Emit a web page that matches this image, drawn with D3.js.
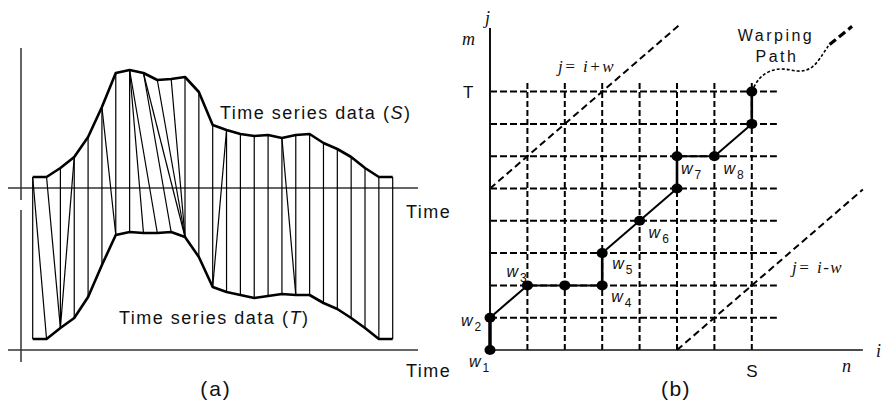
<!DOCTYPE html>
<html>
<head>
<meta charset="utf-8">
<script src="https://cdn.jsdelivr.net/npm/d3@7"></script>
<style>
	body { margin: 0; background: #fff; }
	text { font-family: "Liberation Sans", Arial, sans-serif; fill: #111; }
	.serif { font-family: "Liberation Serif", "Times New Roman", serif; font-style: italic; }
</style>
</head>
<body>
<script>
// (a) two time series, sampled at the same time steps
const seriesS = [173, 173, 182, 193, 213, 243, 277, 280, 277, 270, 271, 273, 258, 225,
	220, 216, 214, 215, 212, 215, 216, 207, 201, 193, 182, 173, 173];
const seriesT = [11, 11, 22, 32, 53, 85, 115, 118, 117, 117, 118, 113, 93, 63,
	58, 55, 52, 54, 56, 55, 55, 47, 41, 32, 22, 11, 11];

// index pairs [i in S, j in T] joined by the alignment lines
const matches = [[0, 0], [0, 1], [1, 2], [2, 2], [3, 2], [3, 3], [4, 4], [5, 5], [5, 6],
	[6, 6], [7, 7], [7, 8], [7, 9], [8, 10], [8, 11], [9, 11], [10, 11], [11, 11],
	[12, 12], [13, 13], [14, 13], [14, 14], [15, 15], [16, 16], [17, 17], [18, 18],
	[18, 19], [19, 19], [20, 20], [21, 21], [22, 22], [23, 23], [24, 24], [25, 25], [26, 26]];

// (b) warping path cells [i, j]
const pathCells = [[0, 0], [0, 1], [1, 2], [2, 2], [3, 2], [3, 3], [4, 4], [5, 5],
	[5, 6], [6, 6], [7, 7], [7, 8]];
const pathNames = ["1", "2", "3", "4", "5", "6", "7", "8"];
const pathNamed = [0, 1, 2, 4, 5, 6, 8, 9]; // which cell carries each w_k
const gridRows = [1, 2, 3, 4, 5, 6, 7, 8];
const gridCols = [1, 2, 3, 4, 5, 6, 7];
const bandW = 5;
const upperBand = [0, 5.05];
const lowerBand = [5, 9.97];
// rough shape of the "Warping Path" squiggle, in cell units
const squiggle = [[7, 8], [7.2, 8.5], [7.75, 8.78], [8.25, 8.58], [8.65, 8.72], [8.92, 9.2], [9.05, 9.42]];
const squiggleEnd = [[9.08, 9.46], [9.68, 10.02]];

const width = 881;
const height = 410;

const svg = d3.select("body")
	.append("svg")
	.attr("width", width)
	.attr("height", height);

/* ---------- panel (a) ---------- */
const xA = d3.scaleLinear().domain([0, 26]).range([32.7, 392.7]);
const yA = d3.scaleLinear().domain([0, 300]).range([350, 50]);

const gA = svg.append("g");

// axes
gA.append("line")
	.attr("x1", 8).attr("x2", 418)
	.attr("y1", yA(162)).attr("y2", yA(162))
	.attr("stroke", "#333").attr("stroke-width", 1.5);
gA.append("line")
	.attr("x1", 8).attr("x2", 418)
	.attr("y1", yA(0)).attr("y2", yA(0))
	.attr("stroke", "#333").attr("stroke-width", 1.5);
gA.append("line")
	.attr("x1", 21).attr("x2", 21)
	.attr("y1", yA(302)).attr("y2", yA(150))
	.attr("stroke", "#333").attr("stroke-width", 1.5);
gA.append("line")
	.attr("x1", 21).attr("x2", 21)
	.attr("y1", yA(140)).attr("y2", yA(-12))
	.attr("stroke", "#333").attr("stroke-width", 1.5);

// alignment lines
gA.selectAll("line.match")
	.data(matches)
	.enter()
	.append("line")
	.attr("class", "match")
	.attr("x1", d => xA(d[0]))
	.attr("y1", d => yA(seriesS[d[0]]))
	.attr("x2", d => xA(d[1]))
	.attr("y2", d => yA(seriesT[d[1]]))
	.attr("stroke", "#000")
	.attr("stroke-width", 1.2);

const lineA = d3.line()
	.x((d, i) => xA(i))
	.y(d => yA(d));

[seriesS, seriesT].forEach(function(s) {
	gA.append("path")
		.attr("d", lineA(s))
		.attr("fill", "none")
		.attr("stroke", "#000")
		.attr("stroke-width", 2.6)
		.attr("stroke-linejoin", "round");
});

const labA = gA.append("g")
	.attr("font-size", "18px")
	.attr("letter-spacing", "1.5px");
const ls = labA.append("text").attr("x", 220).attr("y", 119);
ls.append("tspan").text("Time series data (");
ls.append("tspan").attr("font-style", "italic").text("S");
ls.append("tspan").text(")");
const lt = labA.append("text").attr("x", 119).attr("y", 324);
lt.append("tspan").text("Time series data (");
lt.append("tspan").attr("font-style", "italic").text("T");
lt.append("tspan").text(")");
labA.append("text").attr("x", 406).attr("y", 218).text("Time");
labA.append("text").attr("x", 406).attr("y", 377).text("Time");
labA.append("text").attr("x", 216).attr("y", 396)
	.attr("text-anchor", "middle").attr("font-size", "21px").attr("letter-spacing", "2px").text("(a)");

/* ---------- panel (b) ---------- */
const xB = d3.scaleLinear().domain([0, 10]).range([490, 864]);
const yB = d3.scaleLinear().domain([0, 10]).range([350, 27]);

const gB = svg.append("g");

// dashed grid
gB.selectAll("line.row")
	.data(gridRows)
	.enter()
	.append("line")
	.attr("class", "row")
	.attr("x1", xB(0)).attr("x2", xB(7.67))
	.attr("y1", d => yB(d)).attr("y2", d => yB(d))
	.attr("stroke", "#000").attr("stroke-width", 2)
	.attr("stroke-dasharray", "7,3");
gB.selectAll("line.col")
	.data(gridCols)
	.enter()
	.append("line")
	.attr("class", "col")
	.attr("x1", d => xB(d)).attr("x2", d => xB(d))
	.attr("y1", yB(0)).attr("y2", yB(8.36))
	.attr("stroke", "#000").attr("stroke-width", 2)
	.attr("stroke-dasharray", "6,3");

// band limits j = i + w and j = i - w
gB.append("line")
	.attr("x1", xB(upperBand[0])).attr("y1", yB(upperBand[0] + bandW))
	.attr("x2", xB(upperBand[1])).attr("y2", yB(upperBand[1] + bandW))
	.attr("stroke", "#000").attr("stroke-width", 2)
	.attr("stroke-dasharray", "7,4");
gB.append("line")
	.attr("x1", xB(lowerBand[0])).attr("y1", yB(lowerBand[0] - bandW))
	.attr("x2", xB(lowerBand[1])).attr("y2", yB(lowerBand[1] - bandW))
	.attr("stroke", "#000").attr("stroke-width", 2)
	.attr("stroke-dasharray", "7,4");

// axes
gB.append("line")
	.attr("x1", xB(0)).attr("x2", xB(0))
	.attr("y1", yB(0)).attr("y2", yB(9.97))
	.attr("stroke", "#111").attr("stroke-width", 2);
gB.append("line")
	.attr("x1", xB(0)).attr("x2", xB(9.97))
	.attr("y1", yB(0)).attr("y2", yB(0))
	.attr("stroke", "#111").attr("stroke-width", 1.6);

// warping path
const segs = d3.pairs(pathCells);
gB.selectAll("line.step")
	.data(segs)
	.enter()
	.append("line")
	.attr("class", "step")
	.attr("x1", d => xB(d[0][0])).attr("y1", d => yB(d[0][1]))
	.attr("x2", d => xB(d[1][0])).attr("y2", d => yB(d[1][1]))
	.attr("stroke", "#000")
	.attr("stroke-width", (d, i) => i == 0 ? 3.5 : (d[0][0] == d[1][0] ? 2.6 : 2));

gB.append("path")
	.attr("d", d3.line().x(d => xB(d[0])).y(d => yB(d[1])).curve(d3.curveBasis)(squiggle))
	.attr("fill", "none")
	.attr("stroke", "#000").attr("stroke-width", 1.6)
	.attr("stroke-dasharray", "3,2");
gB.append("line")
	.attr("x1", xB(squiggleEnd[0][0])).attr("y1", yB(squiggleEnd[0][1]))
	.attr("x2", xB(squiggleEnd[1][0])).attr("y2", yB(squiggleEnd[1][1]))
	.attr("stroke", "#000").attr("stroke-width", 3.2)
	.attr("stroke-dasharray", "8,4");

gB.selectAll("ellipse.cell")
	.data(pathCells)
	.enter()
	.append("ellipse")
	.attr("class", "cell")
	.attr("cx", d => xB(d[0]))
	.attr("cy", d => yB(d[1]))
	.attr("rx", 5.5).attr("ry", 5)
	.attr("fill", "#000");

// w_k labels, offset from their dots
const wOffset = [[-21, 17], [-29, 8], [-21, -8], [9, 17], [10, 16], [9, 17], [4, 18], [9, 18]];
const wl = gB.selectAll("text.w")
	.data(pathNames)
	.enter()
	.append("text")
	.attr("class", "w")
	.attr("x", (d, i) => xB(pathCells[pathNamed[i]][0]) + wOffset[i][0])
	.attr("y", (d, i) => yB(pathCells[pathNamed[i]][1]) + wOffset[i][1])
	.attr("font-size", "16px");
wl.append("tspan").attr("font-style", "italic").text("w");
wl.append("tspan").attr("font-size", "12px").attr("dx", 2).attr("dy", 5).text(d => d);

gB.append("text").attr("class", "serif").attr("x", 485).attr("y", 24)
	.attr("font-size", "18px").text("j");
gB.append("text").attr("class", "serif").attr("x", 462).attr("y", 45)
	.attr("font-size", "18px").text("m");
gB.append("text").attr("class", "serif").attr("x", 842).attr("y", 372)
	.attr("font-size", "18px").text("n");
gB.append("text").attr("class", "serif").attr("x", 876).attr("y", 357)
	.attr("font-size", "18px").text("i");
gB.append("text").attr("class", "serif").attr("x", 558).attr("y", 72)
	.attr("font-size", "17px").attr("letter-spacing", "1.5px").text("j= i+w");
gB.append("text").attr("class", "serif").attr("x", 792).attr("y", 273)
	.attr("font-size", "17px").attr("letter-spacing", "1.5px").text("j= i-w");
gB.append("text").attr("x", 463).attr("y", 98)
	.attr("font-size", "17px").text("T");
gB.append("text").attr("x", xB(7)).attr("y", 377)
	.attr("text-anchor", "middle").attr("font-size", "17px").text("S");
gB.append("text").attr("x", 776).attr("y", 41)
	.attr("text-anchor", "middle").attr("font-size", "16px").attr("letter-spacing", "2.5px").text("Warping");
gB.append("text").attr("x", 777).attr("y", 62)
	.attr("text-anchor", "middle").attr("font-size", "16px").attr("letter-spacing", "2.5px").text("Path");
gB.append("text").attr("x", 676).attr("y", 396)
	.attr("text-anchor", "middle").attr("font-size", "21px").attr("letter-spacing", "1.5px").text("(b)");
</script>
</body>
</html>
